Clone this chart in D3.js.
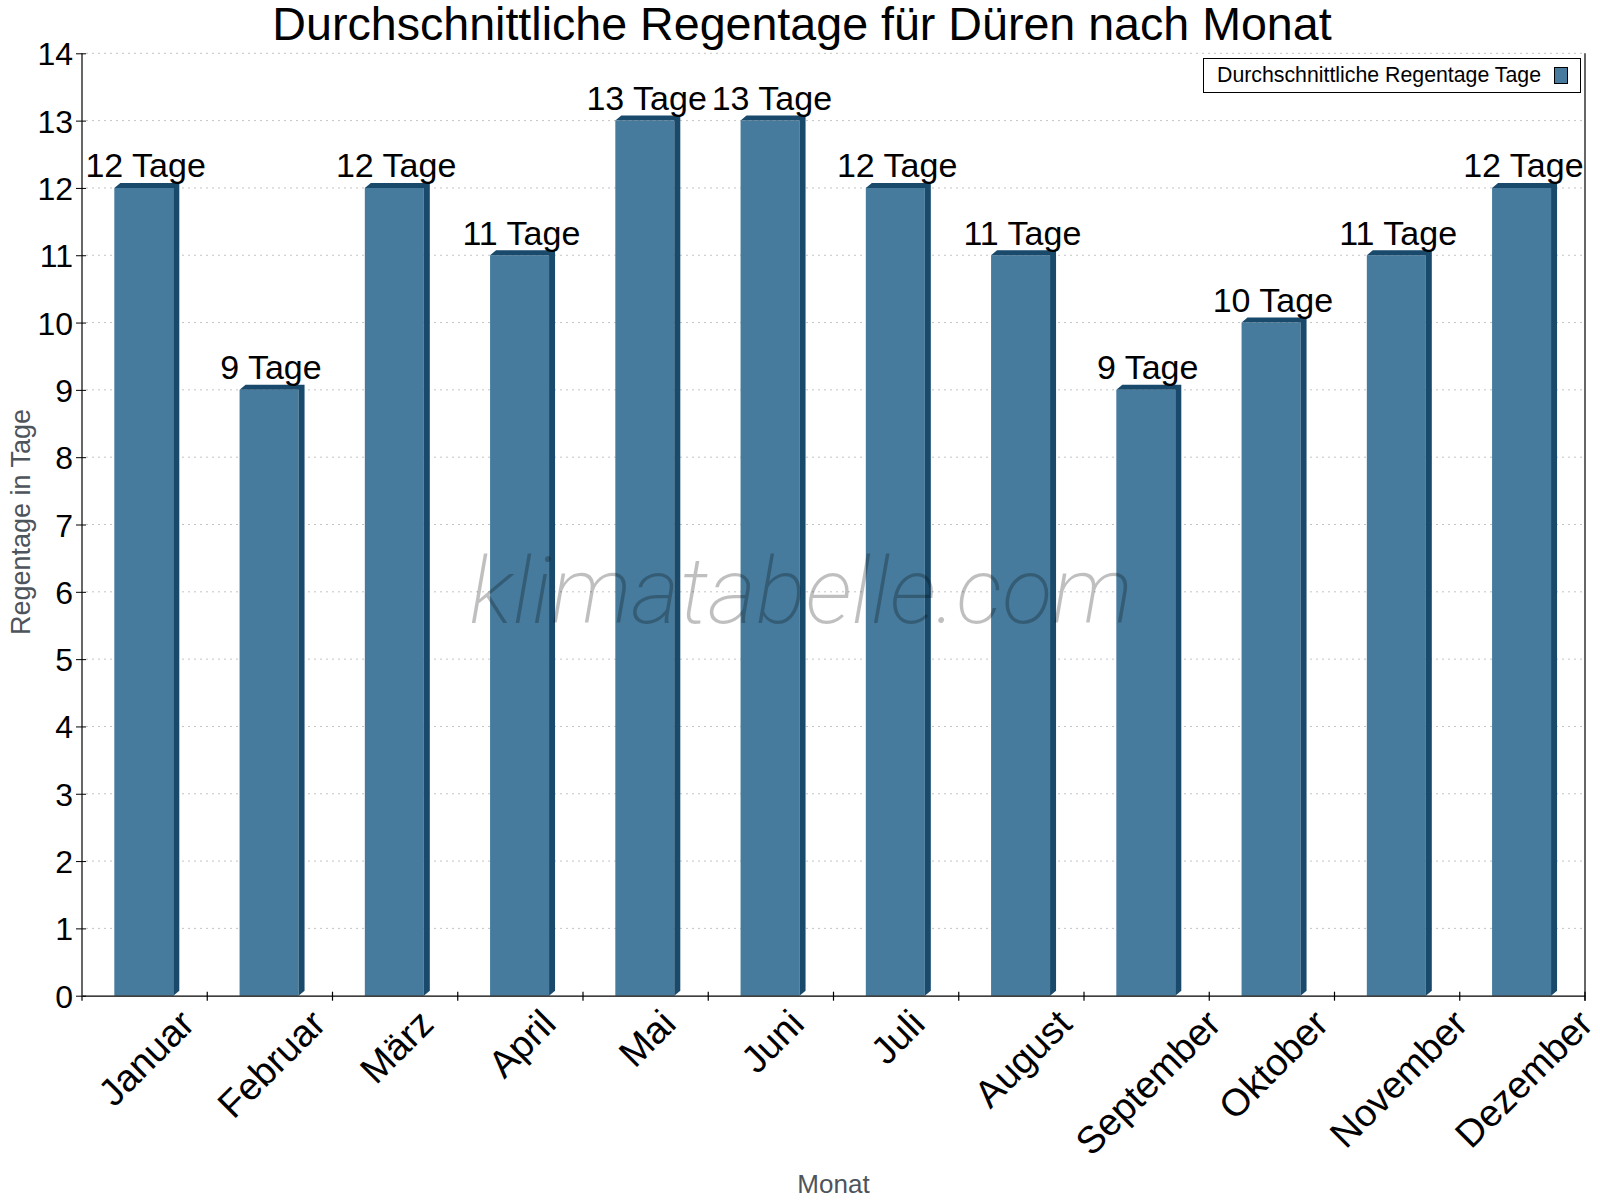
<!DOCTYPE html>
<html>
<head>
<meta charset="utf-8">
<script src="https://cdn.jsdelivr.net/npm/d3@7"></script>
<style>
	body { margin: 0; background: #fff; }
	svg { display: block; font-family: "Liberation Sans", Arial, sans-serif; }
</style>
</head>
<body>
<svg id="chart" width="1600" height="1200"></svg>
<script>
"use strict"

// Data
const months = ["Januar", "Februar", "März", "April", "Mai", "Juni", "Juli", "August", "September", "Oktober", "November", "Dezember"]
const rainDays = [12, 9, 12, 11, 13, 13, 12, 11, 9, 10, 11, 12]
const yTicks = [0, 1, 2, 3, 4, 5, 6, 7, 8, 9, 10, 11, 12, 13, 14]

const title = "Durchschnittliche Regentage für Düren nach Monat"
const legendLabel = "Durchschnittliche Regentage Tage"

const plot = { left: 82, right: 1585, top: 53.3, bottom: 995.7 }
const frontColor = "#467b9d"
const darkColor = "#194a6c"
const depthX = 6, depthY = 5

const svg = d3.select("#chart")

const x = d3.scaleBand()
	.domain(months)
	.range([plot.left, plot.right])
	.padding(0)

const y = d3.scaleLinear()
	.domain([0, 14])
	.range([plot.bottom, plot.top])

// Grid lines (dashed)
svg.append("g")
	.selectAll("line")
	.data(yTicks.filter(d => d > 0))
	.enter().append("line")
	.attr("x1", plot.left + 4)
	.attr("x2", plot.right)
	.attr("y1", d => y(d))
	.attr("y2", d => y(d))
	.attr("stroke", "#c4c4c4")
	.attr("stroke-width", 1)
	.attr("stroke-dasharray", "2,4")

// Y axis
const yAxis = svg.append("g")
	.attr("transform", "translate(" + plot.left + ",0)")
	.call(d3.axisLeft(y).tickValues(yTicks).tickSizeInner(6).tickSizeOuter(0).tickPadding(3))
yAxis.select(".domain").remove()
yAxis.selectAll(".tick line").attr("x1", 4).attr("stroke", "#000")
yAxis.selectAll("text")
	.style("font-size", "32px")
	.attr("fill", "#000")
	.attr("dy", "0.36em")
	.attr("font-family", "Liberation Sans, Arial, sans-serif")

// Left axis line, right border
svg.append("line")
	.attr("x1", plot.left).attr("x2", plot.left)
	.attr("y1", plot.top).attr("y2", plot.bottom + 5)
	.attr("stroke", "#000").attr("stroke-width", 1.2)
svg.append("line")
	.attr("x1", plot.right).attr("x2", plot.right)
	.attr("y1", plot.top).attr("y2", plot.bottom + 5)
	.attr("stroke", "#000").attr("stroke-width", 1.2)

// 3D bars
const bars = svg.append("g")
	.selectAll("g")
	.data(months.map((m, i) => ({ month: m, value: rainDays[i] })))
	.enter().append("g")

const barOffset = x.bandwidth() * 0.258
const barWidth = x.bandwidth() * 0.471

bars.append("rect")
	.attr("x", d => x(d.month) + barOffset)
	.attr("y", d => y(d.value))
	.attr("width", barWidth)
	.attr("height", d => y(0) - y(d.value))
	.attr("fill", frontColor)

bars.append("path")
	.attr("fill", darkColor)
	.attr("d", d => {
		const x0 = x(d.month) + barOffset, x1 = x0 + barWidth
		const top = y(d.value), base = y(0)
		return "M" + x0 + "," + top +
			"L" + (x0 + depthX) + "," + (top - depthY) +
			"L" + (x1 + depthX) + "," + (top - depthY) +
			"L" + (x1 + depthX) + "," + (base - depthY) +
			"L" + x1 + "," + base +
			"L" + x1 + "," + top + "Z"
	})

// X axis
const xAxis = svg.append("g")
	.attr("transform", "translate(0," + plot.bottom + ")")
	.call(d3.axisBottom(x).tickSize(0).tickFormat(""))
xAxis.select(".domain").attr("stroke", "#000").attr("stroke-width", 1.2)

svg.append("g")
	.selectAll("line")
	.data(months)
	.enter().append("line")
	.attr("x1", d => x(d) + x.bandwidth())
	.attr("x2", d => x(d) + x.bandwidth())
	.attr("y1", plot.bottom - 4)
	.attr("y2", plot.bottom + 5)
	.attr("stroke", "#000")
	.attr("stroke-width", 1.2)

// Rotated month labels: bounding box centred on the band, top just under the axis
const labelSize = 38
const labelTop = plot.bottom + 11
svg.append("g")
	.selectAll("text")
	.data(months)
	.enter().append("text")
	.attr("text-anchor", "middle")
	.attr("dy", "0.36em")
	.style("font-size", labelSize + "px")
	.attr("fill", "#000")
	.text(d => d)
	.attr("transform", function(d) {
		const len = this.getComputedTextLength()
		const half = (len + 0.72 * labelSize) * Math.SQRT1_2 / 2
		return "translate(" + (x(d) + x.bandwidth() / 2 + 1) + "," + (labelTop + half) + ") rotate(-45)"
	})

// Watermark
svg.append("text")
	.attr("x", 801)
	.attr("y", 623)
	.attr("text-anchor", "middle")
	.style("font-family", "Roboto, sans-serif")
	.style("font-style", "italic")
	.style("font-weight", 200)
	.style("font-size", "93px")
	.attr("fill", "#000")
	.attr("fill-opacity", 0.25)
	.text("klimatabelle.com")

// Value labels
svg.append("g")
	.selectAll("text")
	.data(months.map((m, i) => ({ month: m, value: rainDays[i] })))
	.enter().append("text")
	.attr("x", d => x(d.month) + x.bandwidth() / 2 + 1)
	.attr("y", d => y(d.value) - 10.5)
	.attr("text-anchor", "middle")
	.style("font-size", "34px")
	.attr("fill", "#000")
	.text(d => d.value + " Tage")

// Title
svg.append("text")
	.attr("x", 802)
	.attr("y", 40)
	.attr("text-anchor", "middle")
	.style("font-size", "46.6px")
	.attr("fill", "#000")
	.text(title)

// Axis titles
svg.append("text")
	.attr("transform", "translate(30,522) rotate(-90)")
	.attr("text-anchor", "middle")
	.style("font-size", "27px")
	.attr("fill", "#4d545c")
	.text("Regentage in Tage")

svg.append("text")
	.attr("x", (plot.left + plot.right) / 2)
	.attr("y", 1193)
	.attr("text-anchor", "middle")
	.style("font-size", "26px")
	.attr("fill", "#4d545c")
	.text("Monat")

// Legend
const legend = svg.append("g")
legend.append("rect")
	.attr("x", 1203.5).attr("y", 58.5)
	.attr("width", 377).attr("height", 34)
	.attr("fill", "#fff")
	.attr("stroke", "#000")
	.attr("stroke-width", 1)
legend.append("text")
	.attr("x", 1217)
	.attr("y", 82)
	.style("font-size", "21.3px")
	.attr("fill", "#000")
	.text(legendLabel)
legend.append("rect")
	.attr("x", 1554.5).attr("y", 67.5)
	.attr("width", 13).attr("height", 16)
	.attr("fill", frontColor)
	.attr("stroke", "#000")
	.attr("stroke-width", 1)
</script>
</body>
</html>
